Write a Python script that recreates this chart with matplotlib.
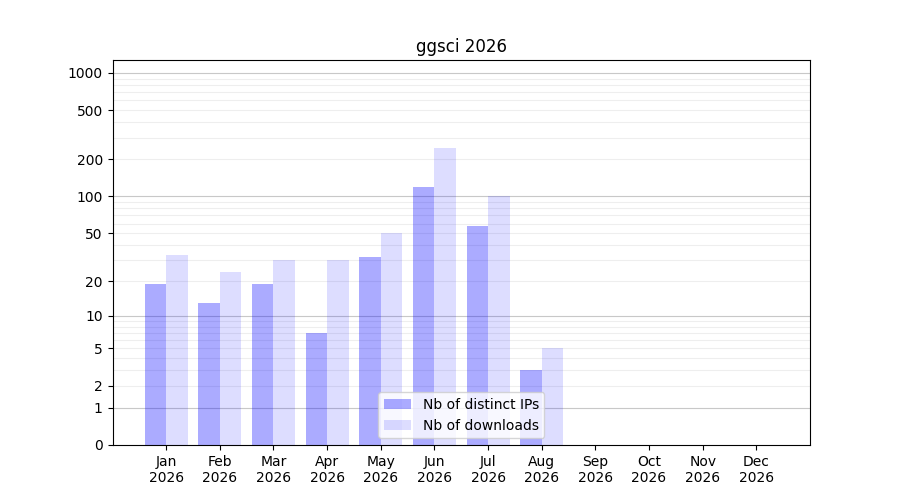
import numpy as np
import matplotlib
matplotlib.use('Agg')
import matplotlib.pyplot as plt

months = ['Jan', 'Feb', 'Mar', 'Apr', 'May', 'Jun', 'Jul', 'Aug', 'Sep', 'Oct', 'Nov', 'Dec']
year = '2026'
ips = [19, 13, 19, 7, 32, 120, 57, 3, 0, 0, 0, 0]
downloads = [33, 24, 30, 30, 50, 245, 100, 5, 0, 0, 0, 0]
ytick_vals = [0, 1, 2, 5, 10, 20, 50, 100, 200, 500, 1000]


def fwd(y):
    return np.log10(1 + np.maximum(y, 0))


def inv(y):
    return 10 ** y - 1


fig, ax = plt.subplots(figsize=(9, 5), dpi=100)
ax.set_yscale('function', functions=(fwd, inv))

x = np.arange(len(months))
ax.bar(x - 0.2, ips, width=0.4, color=(0, 0, 1, 0.33), label='Nb of distinct IPs', zorder=2)
ax.bar(x + 0.2, downloads, width=0.4, color=(0, 0, 1, 0.135), label='Nb of downloads', zorder=2)

# light grid on every 1..9 step, darker at the decades
minor = [m * d for d in (1, 10, 100) for m in range(2, 10)]
for v in minor:
    ax.axhline(v, color='#eeeeee', linewidth=0.8, zorder=1)
for v in (1, 10, 100, 1000):
    ax.axhline(v, color='#c8c8c8', linewidth=0.8, zorder=1)

ax.set_yticks(ytick_vals)
ax.set_yticklabels([str(v) for v in ytick_vals])
ax.yaxis.set_minor_locator(matplotlib.ticker.NullLocator())
ax.set_ylim(0, 1270)

ax.set_xticks(x)
ax.set_xticklabels([m + '\n' + year for m in months])
ax.set_xlim(-1, 12)

ax.set_title('ggsci ' + year)
ax.legend(loc='lower center')

plt.savefig('out.png', dpi=100)
